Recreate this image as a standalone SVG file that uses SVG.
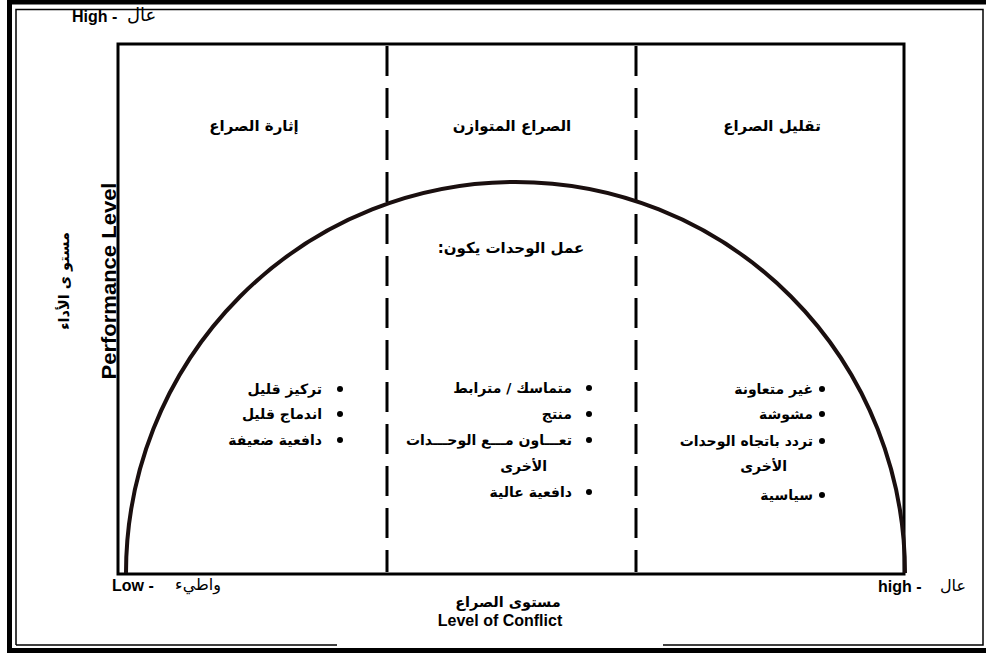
<svg xmlns="http://www.w3.org/2000/svg" width="986" height="655" viewBox="0 0 986 655">
<style>
.en{font-family:"Liberation Sans","DejaVu Sans",sans-serif;font-weight:bold;fill:#000}
.ar{font-family:"DejaVu Sans","Liberation Sans",sans-serif;fill:#000}
.arb{font-family:"DejaVu Sans","Liberation Sans",sans-serif;font-weight:bold;fill:#000}
.h{font-size:15px}
.b{font-size:14px}
.dash{stroke:#000;stroke-width:3;stroke-dasharray:30 12;fill:none}
</style>
<rect width="986" height="655" fill="#fff"/>
<g id="frame" fill="none" stroke="#000">
<rect x="9.5" y="2" width="980" height="648.5" stroke-width="5"/>
<path d="M16,645 V9.5 H983 V645 H663 M337,645 H16" stroke-width="1.5"/>
</g>
<g id="plot-box">
<rect x="118" y="44" width="786" height="530" fill="none" stroke="#000" stroke-width="3"/>
</g>
<g id="connectors">
<line class="dash" x1="387" y1="46" x2="387" y2="572"/>
<line class="dash" x1="636" y1="46" x2="636" y2="572"/>
<path d="M126,573 A389.5,391 0 0 1 905,573" fill="none" stroke="#1a0f0f" stroke-width="4"/>
</g>
<g id="y-axis">
<text class="en" x="72" y="22" font-size="16">High -</text>
<text class="ar" x="127" y="21" font-size="18">عال</text>
<text class="en" transform="translate(116,281) rotate(-90)" font-size="21" text-anchor="middle" textLength="197" lengthAdjust="spacingAndGlyphs">Performance  Level</text>
<text class="arb" transform="translate(69,281) rotate(-90)" font-size="14.5" text-anchor="middle">مستو ى الأداء</text>
</g>
<g id="x-axis">
<text class="en" x="112" y="591" font-size="16">Low -</text>
<text class="ar" x="198" y="590" font-size="16" text-anchor="middle">واطيء</text>
<text class="en" x="878" y="592" font-size="16">high -</text>
<text class="ar" x="953" y="591" font-size="16" text-anchor="middle">عال</text>
<text class="arb" x="508" y="607" font-size="14.5" text-anchor="middle">مستوى الصراع</text>
<text class="en" x="500" y="626" font-size="16" text-anchor="middle">Level of Conflict</text>
</g>
<g id="zone-stimulate">
<text class="arb h" x="254" y="131" text-anchor="middle">إثارة الصراع</text>
<g class="arb b" text-anchor="end">
<circle cx="340" cy="389" r="3"/><text x="322" y="394">تركيز قليل</text>
<circle cx="340" cy="414" r="3"/><text x="322" y="419">اندماج قليل</text>
<circle cx="340" cy="440" r="3"/><text x="322" y="445">دافعية ضعيفة</text>
</g>
</g>
<g id="zone-balanced">
<text class="arb h" x="512" y="131" text-anchor="middle">الصراع المتوازن</text>
<text class="arb h" x="511" y="253" text-anchor="middle">عمل الوحدات يكون:&#x200F;</text>
<g class="arb b" text-anchor="end">
<circle cx="589" cy="388" r="3"/><text x="572" y="393">متماسك / مترابط</text>
<circle cx="589" cy="414" r="3"/><text x="572" y="419">منتج</text>
<circle cx="589" cy="440" r="3"/><text x="572" y="445">تعـــاون مـــع الوحـــدات</text>
<text x="547" y="471">الأخرى</text>
<circle cx="589" cy="492" r="3"/><text x="572" y="497">دافعية عالية</text>
</g>
</g>
<g id="zone-reduce">
<text class="arb h" x="772" y="131" text-anchor="middle">تقليل الصراع</text>
<g class="arb b" text-anchor="end">
<circle cx="822" cy="389" r="3"/><text x="813" y="394">غير متعاونة</text>
<circle cx="822" cy="414" r="3"/><text x="813" y="419">مشوشة</text>
<circle cx="822" cy="441" r="3"/><text x="813" y="446">تردد باتجاه الوحدات</text>
<text x="787" y="471">الأخرى</text>
<circle cx="822" cy="495" r="3"/><text x="813" y="500">سياسية</text>
</g>
</g>
</svg>
